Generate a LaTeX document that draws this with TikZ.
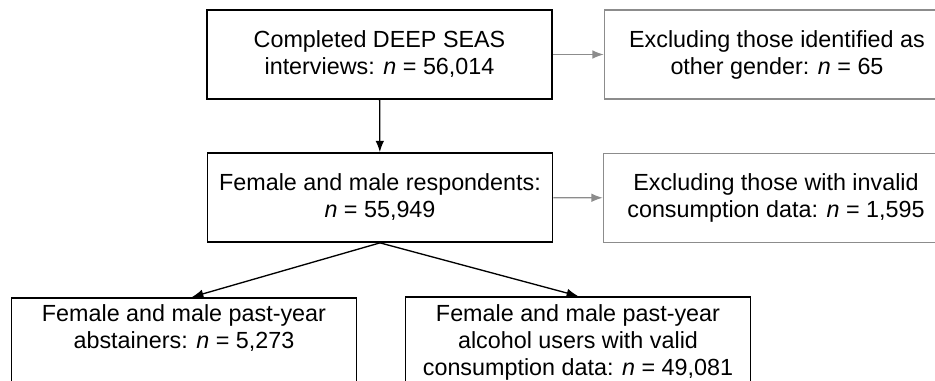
\documentclass[tikz,border=0pt]{standalone}
\usepackage{fontspec}
\setmainfont{Liberation Sans}
\usetikzlibrary{arrows.meta}

\definecolor{exclgray}{RGB}{140,140,140}
\tikzset{
	flowbox/.style={draw, line width=1.3pt, minimum width=258.75pt, minimum height=66.75pt, align=center, inner sep=2pt},
	exclbox/.style={flowbox, draw=exclgray, line width=1.1pt},
	lowbox/.style={draw, line width=1.3pt, anchor=north, minimum width=258.75pt, align=center, text depth=80pt, inner ysep=5pt},
}

\begin{document}
\begin{tikzpicture}[x=0.75pt, y=-0.75pt, font=\fontsize{17.5}{20.25}\selectfont]
		\useasboundingbox (0,0) rectangle (935,381);
		\node[flowbox] (interviews) at (379.5,54.5) {Completed DEEP SEAS\\interviews: \textit{n} = 56,014};
		\node[exclbox] (othergender) at (777,54.5) {Excluding those identified as\\other gender: \textit{n} = 65};
		\node[flowbox] (respondents) at (380,197.5) {Female and male respondents:\\\textit{n} = 55,949};
		\node[exclbox] (invalid) at (776,198) {Excluding those with invalid\\consumption data: \textit{n} = 1,595};
		\node[lowbox] (abstainers) at (184,297) {Female and male past-year\\abstainers: \textit{n} = 5,273};
		\node[lowbox, inner ysep=5.5pt] (users) at (578,296) {Female and male past-year\\alcohol users with valid\\consumption data: \textit{n} = 49,081};
		
		\draw[->, >={Latex[length=8.5pt,width=6.5pt]}, line width=1pt] (interviews) -- (respondents);
		\draw[->, >={Latex[length=8.5pt,width=6.5pt]}, line width=1pt, exclgray] (interviews) -- (othergender);
		\draw[->, >={Latex[length=8.5pt,width=6.5pt]}, line width=1pt, exclgray] (respondents) -- (invalid);
		\draw[->, >={Latex[length=8.5pt,width=6.5pt]}, line width=1pt] (respondents.south) -- ([xshift=6pt]abstainers.north);
		\draw[->, >={Latex[length=8.5pt,width=6.5pt]}, line width=1pt] (respondents.south) -- (users.north);
	\end{tikzpicture}
\end{document}
